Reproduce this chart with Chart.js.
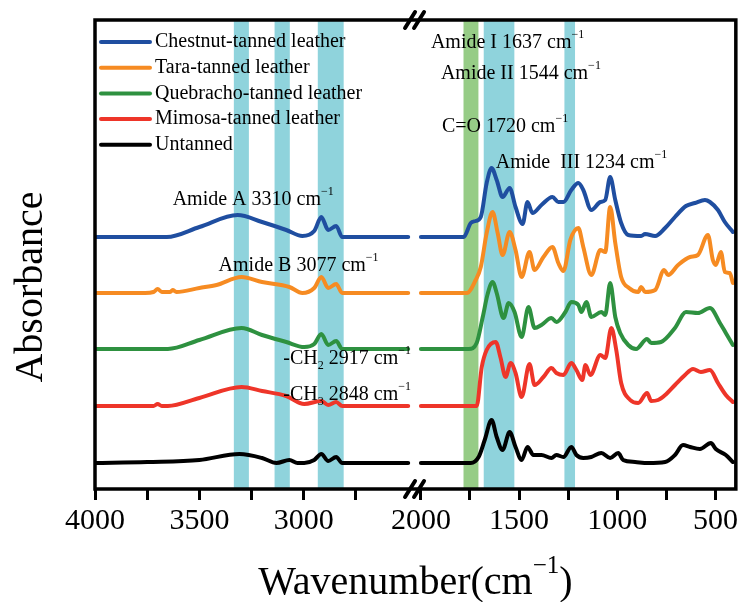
<!DOCTYPE html>
<html>
<head>
<meta charset="utf-8">
<script src="https://cdn.jsdelivr.net/npm/chart.js@4.4.0/dist/chart.umd.min.js"></script>
<style>
  html, body { margin: 0; padding: 0; background: #fff; }
</style>
</head>
<body>
<canvas id="ftirChart" width="741" height="602"></canvas>
<script>
// series
const seriesNames = ["Chestnut-tanned leather", "Tara-tanned leather", "Quebracho-tanned leather", "Mimosa-tanned leather", "Untanned"];
const seriesColors = ["#1f4ea0", "#f68b22", "#2e9140", "#ee3529", "#000000"];
const seriesOffsets = [252, 196, 140, 83, 26];

// wavenumbers (cm-1) and absorbance above each trace's baseline (a.u.)
const chestnutWn = [4000, 3800, 3656, 3500, 3317, 3200, 3084, 3007, 2950, 2916, 2883, 2845, 2816, 2700, 2500,
  2000, 1782, 1746, 1721, 1695, 1665, 1640, 1614, 1584, 1548, 1518, 1482, 1457, 1432, 1386, 1330, 1300, 1274, 1234, 1198, 1173, 1132, 1086, 1061, 1036, 1010, 980, 944, 878, 858, 807, 756, 706, 650, 604, 553, 528, 487, 452, 411];
const chestnutAbs = [0, 0, 0, 10, 22, 15, 7, 1, 6, 20, 7, 11, 0, 0, 0,
  0, 0, 14, 16, 20, 54, 69, 57, 40, 49, 30, 13, 35, 24, 32, 40, 35, 35, 47, 54, 47, 27, 35, 37, 60, 37, 14, 2, 1, 3, 1, 9, 20, 31, 34, 37, 35, 27, 15, 5];

const taraWn = [4000, 3760, 3720, 3700, 3680, 3640, 3628, 3610, 3500, 3418, 3298, 3200, 3069, 3007, 2950, 2916, 2883, 2845, 2816, 2500,
  2000, 1766, 1721, 1695, 1665, 1635, 1609, 1584, 1548, 1518, 1487, 1447, 1421, 1376, 1330, 1300, 1274, 1239, 1198, 1173, 1132, 1086, 1061, 1036, 1010, 980, 940, 893, 878, 858, 807, 761, 741, 690, 629, 589, 538, 513, 498, 472, 452, 427, 411];
const taraAbs = [0, 0, 1, 4, 1, 1, 3, 1, 5, 8, 16, 11, 6, 0, 5, 16, 5, 9, 0, 0,
  0, 0, 13, 26, 60, 81, 60, 38, 61, 43, 16, 41, 23, 36, 46, 30, 22, 53, 65, 46, 18, 43, 41, 86, 50, 16, 5, 1, 6, 1, 3, 23, 18, 28, 36, 38, 58, 33, 28, 41, 21, 20, 10];

const quebrachoWn = [4000, 3651, 3500, 3298, 3200, 3084, 2998, 2950, 2916, 2883, 2845, 2816, 2500,
  2000, 1756, 1716, 1685, 1660, 1635, 1614, 1579, 1553, 1523, 1487, 1452, 1421, 1386, 1335, 1310, 1264, 1234, 1198, 1183, 1157, 1132, 1081, 1061, 1036, 1010, 985, 944, 904, 848, 827, 777, 706, 650, 589, 528, 477, 447, 411];
const quebrachoAbs = [0, 0, 9, 21, 14, 7, 2, 5, 15, 4, 8, 0, 0,
  0, 0, 6, 32, 55, 67, 56, 31, 46, 37, 12, 42, 21, 24, 31, 27, 37, 47, 44, 37, 47, 32, 37, 34, 66, 32, 16, 4, 0, 10, 6, 7, 21, 37, 36, 41, 26, 16, 4];

const mimosaWn = [4000, 3720, 3700, 3680, 3651, 3500, 3298, 3200, 3084, 2998, 2916, 2883, 2845, 2816, 2500,
  2000, 1716, 1690, 1665, 1619, 1594, 1569, 1543, 1518, 1487, 1447, 1421, 1376, 1335, 1310, 1274, 1234, 1208, 1178, 1162, 1137, 1086, 1061, 1030, 1005, 980, 934, 893, 848, 827, 792, 756, 706, 655, 614, 574, 528, 487, 447, 411];
const mimosaAbs = [0, 0, 2, 0, 0, 8, 19, 15, 10, 2, 5, 1, 4, 0, 0,
  0, 0, 39, 56, 64, 48, 29, 43, 33, 9, 42, 21, 29, 38, 33, 31, 43, 36, 26, 41, 31, 51, 48, 78, 56, 23, 6, 3, 13, 5, 6, 11, 21, 31, 37, 34, 36, 23, 11, 4];

const untannedWn = [4000, 3750, 3500, 3308, 3200, 3131, 3069, 3030, 2998, 2950, 2916, 2883, 2845, 2816, 2500,
  2000, 1746, 1706, 1675, 1640, 1614, 1584, 1548, 1518, 1487, 1457, 1427, 1386, 1335, 1310, 1274, 1234, 1208, 1173, 1132, 1081, 1036, 995, 970, 909, 843, 756, 706, 665, 629, 579, 523, 498, 447, 411];
const untannedAbs = [0, 1, 3, 9, 5, 0, 3, 0, 0, 3, 9, 2, 6, 0, 0,
  0, 0, 6, 23, 43, 26, 13, 31, 16, 3, 16, 8, 8, 5, 8, 6, 16, 8, 5, 6, 10, 5, 10, 3, 1, 0, 1, 8, 18, 16, 14, 20, 14, 8, 1];

// axis ticks (broken axis: 4000-2500 | 2000-400)
const tickWn = [4000, 3750, 3500, 3250, 3000, 2750, 2000, 1750, 1500, 1250, 1000, 750, 500];
const tickLabels = ["4000", "", "3500", "", "3000", "", "2000", "", "1500", "", "1000", "", "500"];

// highlighted bands [from, to, kind]
const bandRanges = [[3335, 3263, "c"], [3140, 3067, "c"], [2933, 2809, "c"], [1783, 1707, "g"], [1680, 1524, "c"], [1269, 1215, "c"]];

// peak notes: [text parts, anchor wavenumber, anchor absorbance]
const notes = [
  [[["Amide I 1637 cm"], ["\u22121", "sup"]], 1949, 446],
  [[["Amide II 1544 cm"], ["\u22121", "sup"]], 1898, 415],
  [[["C=O 1720 cm"], ["\u22121", "sup"]], 1893, 362],
  [[["Amide  III 1234 cm"], ["\u22121", "sup"]], 1619, 326],
  [[["Amide A 3310 cm"], ["\u22121", "sup"]], 3628, 289],
  [[["Amide B 3077 cm"], ["\u22121", "sup"]], 3408, 223],
  [[["-CH"], ["2", "sub"], [" 2917 cm"], ["\u22121", "sup"]], 3098, 130],
  [[["-CH"], ["3", "sub"], [" 2848 cm"], ["\u22121", "sup"]], 3098, 94]
];

const HIGH_SCALE = 0.2095, LOW_START = 327, LOW_SCALE = 0.197;
let toAxis = (w) => w >= 2500 ? (4000 - w) * HIGH_SCALE : LOW_START + (2000 - w) * LOW_SCALE;

let buildPoints = (wn, abs, offset) => {
  const pts = [];
  wn.forEach((w, i) => {
    if (i > 0 && wn[i - 1] >= 2500 && w <= 2000) {
      pts.push({ x: (toAxis(wn[i - 1]) + toAxis(w)) / 2, y: null });
    }
    pts.push({ x: toAxis(w), y: abs[i] + offset });
  });
  return pts;
};

const allWn = [chestnutWn, taraWn, quebrachoWn, mimosaWn, untannedWn];
const allAbs = [chestnutAbs, taraAbs, quebrachoAbs, mimosaAbs, untannedAbs];

const SERIF = "'Liberation Serif', 'Times New Roman', serif";

let drawRich = (ctx, parts, x, y, size) => {
  let cx = x;
  ctx.textBaseline = "middle";
  ctx.textAlign = "left";
  parts.forEach((p) => {
    let fs = size, dy = 0;
    if (p[1] === "sup") { fs = Math.round(size * 0.62); dy = -size * 0.42; }
    if (p[1] === "sub") { fs = Math.round(size * 0.62); dy = size * 0.35; }
    ctx.font = fs + "px " + SERIF;
    ctx.fillText(p[0], cx, y + dy);
    cx += ctx.measureText(p[0]).width;
  });
};

const decorPlugin = {
  id: "decor",
  beforeDatasetsDraw(chart) {
    const { ctx, chartArea: a, scales: { x } } = chart;
    ctx.save();
    bandRanges.forEach(([w1, w2, k]) => {
      const p1 = x.getPixelForValue(toAxis(w1));
      const p2 = x.getPixelForValue(toAxis(w2));
      ctx.fillStyle = k === "g" ? "#96cc86" : "#8fd3dc";
      ctx.fillRect(p1, a.top, p2 - p1, a.bottom - a.top);
    });
    ctx.restore();
  },
  afterDatasetsDraw(chart) {
    const { ctx, chartArea: a, scales: { x, y } } = chart;
    ctx.save();
    // frame
    ctx.strokeStyle = "#000";
    ctx.lineWidth = 3.5;
    ctx.lineCap = "square";
    ctx.strokeRect(a.left, a.top, a.right - a.left, a.bottom - a.top);
    // break marks
    const bx = x.getPixelForValue((toAxis(2500) + toAxis(2000)) / 2);
    [a.top, a.bottom].forEach((by) => {
      ctx.lineCap = "round";
      ctx.lineWidth = 4;
      [-4.5, 4.5].forEach((dx) => {
        ctx.beginPath();
        ctx.moveTo(bx + dx - 5, by + 8);
        ctx.lineTo(bx + dx + 5, by - 8);
        ctx.stroke();
      });
    });
    // notes
    ctx.fillStyle = "#000";
    notes.forEach(([parts, w, v]) => {
      drawRich(ctx, parts, x.getPixelForValue(toAxis(w)), y.getPixelForValue(v), 20);
    });
    // legend
    seriesNames.forEach((name, i) => {
      const ly = a.top + 22 + i * 25.7;
      ctx.strokeStyle = seriesColors[i];
      ctx.lineWidth = 4;
      ctx.lineCap = "round";
      ctx.beginPath();
      ctx.moveTo(a.left + 6, ly);
      ctx.lineTo(a.left + 55, ly);
      ctx.stroke();
      ctx.fillStyle = "#000";
      drawRich(ctx, [[name]], a.left + 60, ly, 20);
    });
    // axis titles
    ctx.fillStyle = "#000";
    ctx.font = "40px " + SERIF;
    ctx.save();
    ctx.translate(31, 287);
    ctx.rotate(-Math.PI / 2);
    ctx.textAlign = "center";
    ctx.textBaseline = "middle";
    ctx.fillText("Absorbance", 0, 0);
    ctx.restore();
    const tParts = [["Wavenumber(cm"], ["\u22121", "sup"], [")"]];
    let tw = 0;
    tParts.forEach((p) => {
      ctx.font = (p[1] ? 25 : 40) + "px " + SERIF;
      tw += ctx.measureText(p[0]).width;
    });
    drawRich(ctx, tParts, (a.left + a.right) / 2 - tw / 2, 583, 40);
    ctx.restore();
  }
};

let plotSpectra = () => {
  const ctx = document.getElementById("ftirChart");
  const datasets = seriesNames.map((name, i) => ({
    label: name,
    data: buildPoints(allWn[i], allAbs[i], seriesOffsets[i]),
    borderColor: seriesColors[i],
    borderWidth: 4,
    pointRadius: 0,
    cubicInterpolationMode: "monotone",
    borderJoinStyle: "round",
    borderCapStyle: "round",
    fill: false
  }));
  const config = {
    type: "line",
    data: { datasets },
    options: {
      responsive: false,
      animation: false,
      layout: { padding: { left: 95, right: 3, top: 20, bottom: 0 } },
      plugins: { legend: { display: false }, tooltip: { enabled: false } },
      scales: {
        x: {
          type: "linear",
          min: 0,
          max: 643,
          afterBuildTicks: (scale) => { scale.ticks = tickWn.map((w) => ({ value: toAxis(w) })); },
          afterFit: (scale) => { scale.height = 113; },
          border: { display: false },
          grid: { drawOnChartArea: false, drawTicks: true, tickLength: 11, lineWidth: 3, color: "#000" },
          ticks: {
            autoSkip: false,
            maxRotation: 0,
            padding: 3,
            color: "#000",
            font: { family: SERIF, size: 30 },
            callback: (value, index) => tickLabels[index]
          }
        },
        y: { display: false, min: 0, max: 469 }
      }
    },
    plugins: [decorPlugin]
  };
  new Chart(ctx, config);
};

plotSpectra();
</script>
</body>
</html>
